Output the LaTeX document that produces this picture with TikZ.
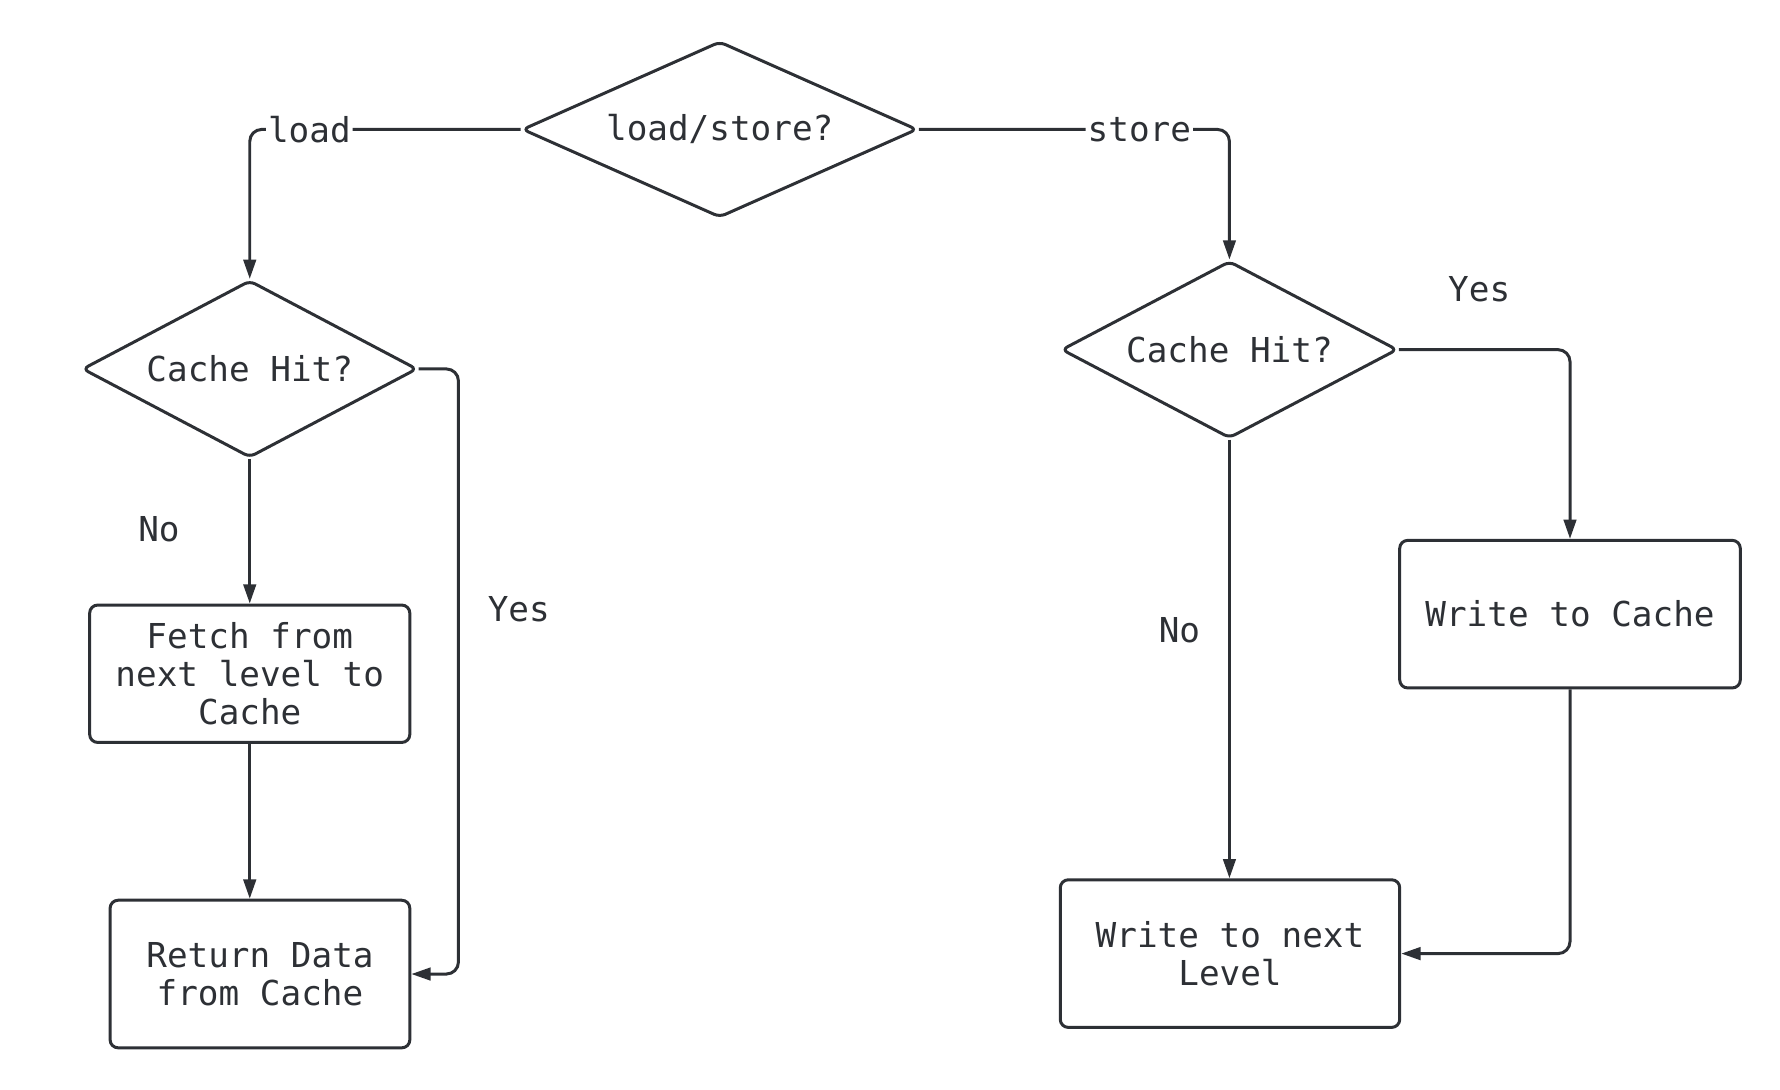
\documentclass[tikz,border=0pt]{standalone}
\usepackage{fontspec}
\setmonofont{DejaVu Sans Mono}
\usepackage{tikz}
\usetikzlibrary{arrows.meta, positioning, calc, shapes.geometric}
\definecolor{ink}{HTML}{2D3035}

\begin{document}
\begin{tikzpicture}[x=1cm,y=1cm,
  line width=0.75pt, draw=ink, text=ink,
  every node/.style={font=\ttfamily\fontsize{8.6}{9.5}\selectfont},
  decide/.style={draw, diamond, inner sep=0pt, rounded corners=1.5pt},
  proc/.style={draw, rectangle, rounded corners=2pt, align=center, inner sep=0pt},
  arr/.style={-{Triangle[length=1.7mm,width=1.1mm]}, rounded corners=3pt},
  lbl/.style={fill=white, inner sep=0.5pt}]
\useasboundingbox (0,0) rectangle (15.68,-9.593);

% decisions
\node[decide, aspect=2.245, minimum width=3.48cm, minimum height=1.55cm] (Q) at (6.34,-1.14) {load/store?};
\node[decide, aspect=1.89, minimum width=2.95cm, minimum height=1.56cm] (HL) at (2.20,-3.25) {Cache Hit?};
\node[decide, aspect=1.90, minimum width=2.96cm, minimum height=1.56cm] (HR) at (10.83,-3.08) {Cache Hit?};

% boxes
\node[proc, minimum width=2.82cm, minimum height=1.21cm] (F) at (2.20,-5.935)
  {Fetch from\\next level to\\Cache};
\node[proc, minimum width=2.64cm, minimum height=1.30cm] (R) at (2.29,-8.58)
  {Return Data\\from Cache};
\node[proc, minimum width=3.00cm, minimum height=1.30cm] (WC) at (13.83,-5.41)
  {Write to Cache};
\node[proc, minimum width=2.99cm, minimum height=1.30cm] (WN) at (10.835,-8.40)
  {Write to next\\Level};

% load side
\draw[arr] (Q.west) -| node[lbl, pos=0.39] {load} (HL.north);
\draw[arr] (HL.south) -- (F.north);
\draw[arr] (F.south) -- (F.south |- R.north);
\draw[arr] (HL.east) -- ++(0.35,0) |- (R.east);
\node (noL) at (1.40,-4.66) {No};
\node (yesL) at (4.57,-5.37) {Yes};

% store side
\draw[arr] (Q.east) -| node[lbl, pos=0.355] {store} (HR.north);
\draw[arr] (HR.south) -- (HR.south |- WN.north);
\draw[arr] (HR.east) -| (WC.north);
\draw[arr] (WC.south) |- (WN.east);
\node (noR) at (10.39,-5.55) {No};
\node (yesR) at (13.03,-2.55) {Yes};

\end{tikzpicture}
\end{document}
